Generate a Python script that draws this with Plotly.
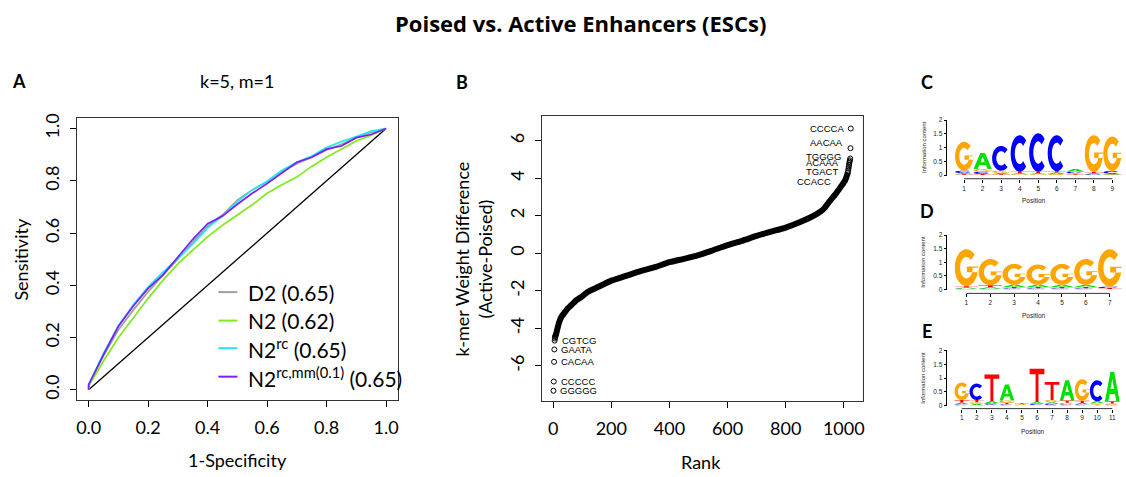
import math
import plotly.graph_objects as go

W, H = 1126, 477
FONT = "Lato"

# ---------------- Panel A: ROC curves ----------------
roc_fpr = [0, 0, 0.05, 0.1, 0.15, 0.2, 0.25, 0.3, 0.35, 0.4, 0.45, 0.5, 0.55, 0.6,
           0.65, 0.7, 0.75, 0.8, 0.85, 0.9, 0.95, 1.0]
tpr_d2 = [0, 0.02, 0.13, 0.23, 0.305, 0.375, 0.44, 0.5, 0.565, 0.626, 0.67, 0.726,
          0.765, 0.795, 0.835, 0.865, 0.89, 0.918, 0.94, 0.965, 0.985, 1.0]
tpr_n2 = [0, 0.015, 0.11, 0.2, 0.275, 0.35, 0.42, 0.482, 0.535, 0.586, 0.63, 0.67,
          0.708, 0.752, 0.785, 0.814, 0.855, 0.89, 0.92, 0.952, 0.974, 1.0]
tpr_n2rc = [0, 0.02, 0.14, 0.245, 0.325, 0.394, 0.45, 0.505, 0.557, 0.62, 0.665, 0.72,
            0.765, 0.798, 0.84, 0.871, 0.895, 0.927, 0.95, 0.969, 0.99, 1.0]
tpr_n2rcmm = [0, 0.02, 0.135, 0.243, 0.321, 0.388, 0.44, 0.507, 0.576, 0.636, 0.665, 0.71,
              0.752, 0.789, 0.83, 0.871, 0.89, 0.921, 0.933, 0.965, 0.977, 1.0]
roc_labels = ["D2 (0.65)", "N2 (0.62)", "N2<sup>rc</sup> (0.65)",
              "N2<sup>rc,mm(0.1)</sup> (0.65)"]
roc_ticks = [0, 0.2, 0.4, 0.6, 0.8, 1.0]
roc_ticktext = ["0.0", "0.2", "0.4", "0.6", "0.8", "1.0"]

# ---------------- Panel B: k-mer weight differences ----------------
curve_rank = [6, 8, 11, 15, 20, 30, 40, 50, 60, 70, 80, 100, 120, 150, 200, 250, 300,
              350, 400, 450, 500, 550, 600, 650, 700, 750, 800, 850, 900, 930, 950,
              970, 990, 1005, 1014]
curve_value = [-4.5, -4.4, -4.25, -4.0, -3.7, -3.35, -3.15, -2.95, -2.8, -2.65, -2.5,
               -2.3, -2.05, -1.83, -1.46, -1.21, -0.95, -0.74, -0.48, -0.3, -0.1, 0.16,
               0.43, 0.66, 0.92, 1.15, 1.37, 1.66, 2.03, 2.35, 2.75, 3.12, 3.55, 3.9, 4.3]
low_rank = [1, 2, 3, 4, 5, 6, 7, 8]
low_value = [-7.33, -6.84, -5.79, -5.13, -4.66, -4.55, -4.47, -4.40]
high_rank = [1024, 1023, 1022, 1021, 1020, 1019, 1018, 1017, 1016, 1015, 1014]
high_value = [6.65, 5.6, 5.05, 4.95, 4.88, 4.8, 4.7, 4.6, 4.5, 4.4, 4.3]
low_kmers = ["GGGGG", "CCCCC", "CACAA", "GAATA", "CGTCG"]
high_kmers = ["CCCCA", "AACAA", "TGGGG", "ACAAA", "TGACT", "CCACC"]
rank_ticks = [0, 200, 400, 600, 800, 1000]
diff_ticks = [-6, -4, -2, 0, 2, 4, 6]

# ---------------- Panels C-E: sequence logos (bits per base) ----------------
logoC = {
    "A": [0.04, 0.58, 0.05, 0.04, 0.04, 0.05, 0.10, 0.04, 0.03],
    "C": [0.09, 0.08, 0.90, 1.33, 1.40, 1.31, 0.05, 0.03, 0.10],
    "G": [1.05, 0.10, 0.08, 0.03, 0.03, 0.04, 0.04, 1.34, 1.25],
    "T": [0.03, 0.04, 0.03, 0.05, 0.05, 0.05, 0.03, 0.04, 0.02],
}
logoD = {
    "A": [0.04, 0.05, 0.08, 0.08, 0.08, 0.07, 0.02],
    "C": [0.03, 0.03, 0.04, 0.04, 0.04, 0.04, 0.05],
    "G": [1.36, 0.97, 0.77, 0.75, 0.77, 0.96, 1.38],
    "T": [0.05, 0.07, 0.05, 0.05, 0.05, 0.05, 0.03],
}
logoE = {
    "A": [0.06, 0.06, 0.07, 0.59, 0.02, 0.07, 0.07, 0.74, 0.05, 0.07, 1.07],
    "C": [0.04, 0.60, 0.05, 0.04, 0.01, 0.04, 0.05, 0.04, 0.04, 0.77, 0.03],
    "G": [0.64, 0.06, 0.03, 0.08, 0.02, 0.02, 0.08, 0.06, 0.79, 0.05, 0.04],
    "T": [0.10, 0.08, 0.98, 0.06, 0.03, 1.21, 0.66, 0.08, 0.08, 0.03, 0.08],
}
logo_ticks = [0, 0.5, 1, 1.5, 2]
logo_ticktext = ["0", "0.5", "1", "1.5", "2"]

# ---------------- helpers ----------------
def fx(p):
    return p / W


def fy(p):
    return 1 - p / H


base_colors = {"A": "#00e000", "C": "#0000ff", "G": "#ffa500", "T": "#ff0000"}


def ring(a0, a1, rxo=0.5, ryo=0.5, rxi=0.27, ryi=0.29, n=28):
    outer, inner = [], []
    for i in range(n + 1):
        a = math.radians(a0 + (a1 - a0) * i / n)
        outer.append((0.5 + rxo * math.cos(a), 0.5 + ryo * math.sin(a)))
        inner.append((0.5 + rxi * math.cos(a), 0.5 + ryi * math.sin(a)))
    return outer + inner[::-1]


def glyph(letter):
    if letter == "T":
        return [[(0, 1), (1, 1), (1, 0.84), (0.6, 0.84), (0.6, 0), (0.4, 0),
                 (0.4, 0.84), (0, 0.84)]]
    if letter == "A":
        outer = [(0, 0), (0.37, 1), (0.63, 1), (1, 0), (0.77, 0), (0.68, 0.25),
                 (0.32, 0.25), (0.23, 0)]
        hole = [(0.385, 0.42), (0.615, 0.42), (0.5, 0.77)]
        return [outer, hole]
    if letter == "C":
        return [ring(45, 315)]
    # G
    bar = [(0.52, 0.38), (1.0, 0.38), (1.0, 0.53), (0.52, 0.53)]
    return [ring(45, 360), bar]


def logo_shapes(logo, xref, yref):
    shapes = []
    npos = len(logo["A"])
    for i in range(npos):
        pos = i + 1
        items = sorted([(logo[b][i], b) for b in "ACGT"])
        base = 0.0
        for h, b in items:
            segs = []
            for poly in glyph(b):
                pts = [(pos - 0.49 + gx * 0.98, base + gy * h) for gx, gy in poly]
                segs.append("M " + " L ".join(f"{x:.4f},{y:.4f}" for x, y in pts) + " Z")
            shapes.append(dict(type="path", path=" ".join(segs), xref=xref, yref=yref,
                               fillcolor=base_colors[b], line=dict(width=0), layer="above"))
            base += h
    return shapes


fig = go.Figure()

# Panel A traces
fig.add_trace(go.Scatter(x=[0, 1], y=[0, 1], mode="lines", line=dict(color="black", width=1.3),
                         xaxis="x", yaxis="y", showlegend=False, hoverinfo="skip"))
roc_colors = ["#a0a0a0", "#80ea1c", "#22e8f2", "#7f1ef2"]
for tpr, col in zip([tpr_d2, tpr_n2, tpr_n2rc, tpr_n2rcmm], roc_colors):
    fig.add_trace(go.Scatter(x=roc_fpr, y=tpr, mode="lines", line=dict(color=col, width=1.7),
                             xaxis="x", yaxis="y", showlegend=False))

# Panel B traces
fig.add_trace(go.Scatter(x=curve_rank, y=curve_value, mode="lines",
                         line=dict(color="black", width=6, shape="spline", smoothing=0.6),
                         xaxis="x2", yaxis="y2", showlegend=False))
fig.add_trace(go.Scatter(x=low_rank + high_rank, y=low_value + high_value, mode="markers",
                         marker=dict(symbol="circle-open", size=5, color="black",
                                     line=dict(width=1, color="black")),
                         xaxis="x2", yaxis="y2", showlegend=False))

# dummy traces to activate logo axes
for xa, ya in [("x3", "y3"), ("x4", "y4"), ("x5", "y5")]:
    fig.add_trace(go.Scatter(x=[1], y=[0], mode="markers", marker=dict(opacity=0),
                             xaxis=xa, yaxis=ya, showlegend=False, hoverinfo="skip"))

axis_common = dict(showgrid=False, zeroline=False, showline=True, mirror=True,
                   linecolor="#333333", linewidth=1, ticks="outside", ticklen=6,
                   tickcolor="black", tickfont=dict(family=FONT, size=18, color="black"))

layout = dict(
    width=W, height=H, margin=dict(l=0, r=0, t=0, b=0),
    paper_bgcolor="white", plot_bgcolor="white", showlegend=False,
    xaxis=dict(domain=[fx(76), fx(398)], range=[-0.04, 1.04], tickvals=roc_ticks,
               ticktext=roc_ticktext, anchor="y", ticklabelstandoff=5, **axis_common),
    yaxis=dict(domain=[fy(402), fy(115)], range=[-0.04, 1.04], tickvals=roc_ticks,
               ticktext=roc_ticktext, tickangle=-90, anchor="x", ticklabelstandoff=4,
               **axis_common),
    xaxis2=dict(domain=[fx(542), fx(864)], range=[-40, 1065], tickvals=rank_ticks,
                anchor="y2", ticklabelstandoff=5, **axis_common),
    yaxis2=dict(domain=[fy(403), fy(113)], range=[-7.89, 7.31], tickvals=diff_ticks,
                ticktext=[str(v) for v in diff_ticks], tickangle=-90, anchor="x2",
                ticklabelstandoff=3, **axis_common),
)

logo_small = dict(showgrid=False, zeroline=False, ticks="outside", ticklen=3,
                  tickcolor="black", tickwidth=0.8,
                  tickfont=dict(family="Liberation Sans", size=6.5, color="#222222"))
# logo geometry (pixel positions of layout)
logo_geo = [
    # (logo, x0, x1, ytop(2 bits), ybottom(0 bits), yaxis_x, xaxis_y, title_y, label, label_y)
    (logoC, 956.4, 1123.6, 117.0, 173.0, 948.0, 176.7, 198.5, "C", 78),
    (logoD, 956.0, 1123.7, 234.0, 289.3, 948.0, 293.3, 316.0, "D", 210),
    (logoE, 955.8, 1121.8, 351.7, 407.3, 948.0, 410.5, 433.5, "E", 332),
]
shapes = []
annotations = []
small_font = dict(family="Liberation Sans", size=6.5, color="#222222")
for k, (logo, x0, x1, yt, yb, yax, xay, ty, lab, laby) in enumerate(logo_geo):
    n = len(logo["A"])
    xi, yi = k + 3, k + 3
    layout[f"xaxis{xi}"] = dict(domain=[fx(x0), fx(x1)], range=[0.5, n + 0.5],
                                tickvals=list(range(1, n + 1)), anchor="free",
                                position=fy(xay), showline=False, **logo_small)
    layout[f"yaxis{yi}"] = dict(domain=[fy(yb), fy(yt)], range=[0, 2], tickvals=logo_ticks,
                                ticktext=logo_ticktext, anchor="free", position=fx(yax),
                                showline=True, linecolor="black", linewidth=0.8,
                                **logo_small)
    shapes += logo_shapes(logo, f"x{xi}", f"y{yi}")
    # x axis line from first to last position
    shapes.append(dict(type="line", xref=f"x{xi}", yref="paper", x0=1, x1=n,
                       y0=fy(xay), y1=fy(xay), line=dict(color="black", width=0.8)))
    annotations.append(dict(text="Position", x=fx((x0 + x1) / 2 - 4), y=fy(ty),
                            xref="paper", yref="paper", showarrow=False,
                            xanchor="center", yanchor="middle", font=small_font))
    annotations.append(dict(text="Information content", x=fx(925), y=fy((yt + yb) / 2),
                            xref="paper", yref="paper", showarrow=False, textangle=-90,
                            xanchor="center", yanchor="middle",
                            font=dict(family="Liberation Sans", size=6, color="#222222")))
    annotations.append(dict(text=f"<b>{lab}</b>", x=fx(928), y=fy(laby), xref="paper",
                            yref="paper", showarrow=False, xanchor="center",
                            yanchor="middle",
                            font=dict(family=FONT, size=18, color="black")))

# Panel A legend (manual)
legend_rows = [292, 321, 349, 378]
for lab, col, ry in zip(roc_labels, roc_colors, legend_rows):
    shapes.append(dict(type="line", xref="paper", yref="paper", x0=fx(218), x1=fx(237),
                       y0=fy(ry), y1=fy(ry), line=dict(color=col, width=2)))
    annotations.append(dict(text=lab, x=fx(246), y=fy(ry), xref="paper", yref="paper",
                            xanchor="left", yanchor="middle", showarrow=False,
                            font=dict(family=FONT, size=21, color="black")))

# Panel B k-mer labels
for kmer, r, v in zip(low_kmers, low_rank, low_value):
    annotations.append(dict(text=kmer, x=r, y=v, xref="x2", yref="y2", xanchor="left",
                            yanchor="middle", xshift=5, showarrow=False,
                            font=dict(family="Liberation Sans", size=9.5, color="black")))
high_label_dy = [0.0, 0.3, 0.1, -0.12, -0.52, -0.98]
high_label_dx = [-5, -5, -7, -9, -10, -16]
for kmer, r, v, dy, dx in zip(high_kmers, high_rank, high_value, high_label_dy, high_label_dx):
    annotations.append(dict(text=kmer, x=r, y=v + dy, xref="x2", yref="y2", xanchor="right",
                            yanchor="middle", xshift=dx, showarrow=False,
                            font=dict(family="Liberation Sans", size=9.5, color="black")))

# titles and axis titles
def ann(text, x, y, size, angle=0, bold=False, family=FONT):
    annotations.append(dict(text=f"<b>{text}</b>" if bold else text, x=fx(x), y=fy(y),
                            xref="paper", yref="paper", showarrow=False, textangle=angle,
                            xanchor="center", yanchor="middle",
                            font=dict(family=family, size=size, color="black")))


ann("Poised vs. Active Enhancers (ESCs)", 581, 18, 22, bold=True, family="Open Sans")
ann("A", 18, 77, 18, bold=True)
ann("B", 462, 78, 18, bold=True)
ann("k=5, m=1", 237, 77, 18)
ann("1-Specificity", 237, 463, 18)
ann("Sensitivity", 20, 258, 18, angle=-90)
ann("Rank", 702, 465, 18)
ann("k-mer Weight Difference<br>(Active-Poised)", 474, 258, 18, angle=-90)

layout["shapes"] = shapes
layout["annotations"] = annotations
fig.update_layout(**layout)
fig.write_html("out.html")
